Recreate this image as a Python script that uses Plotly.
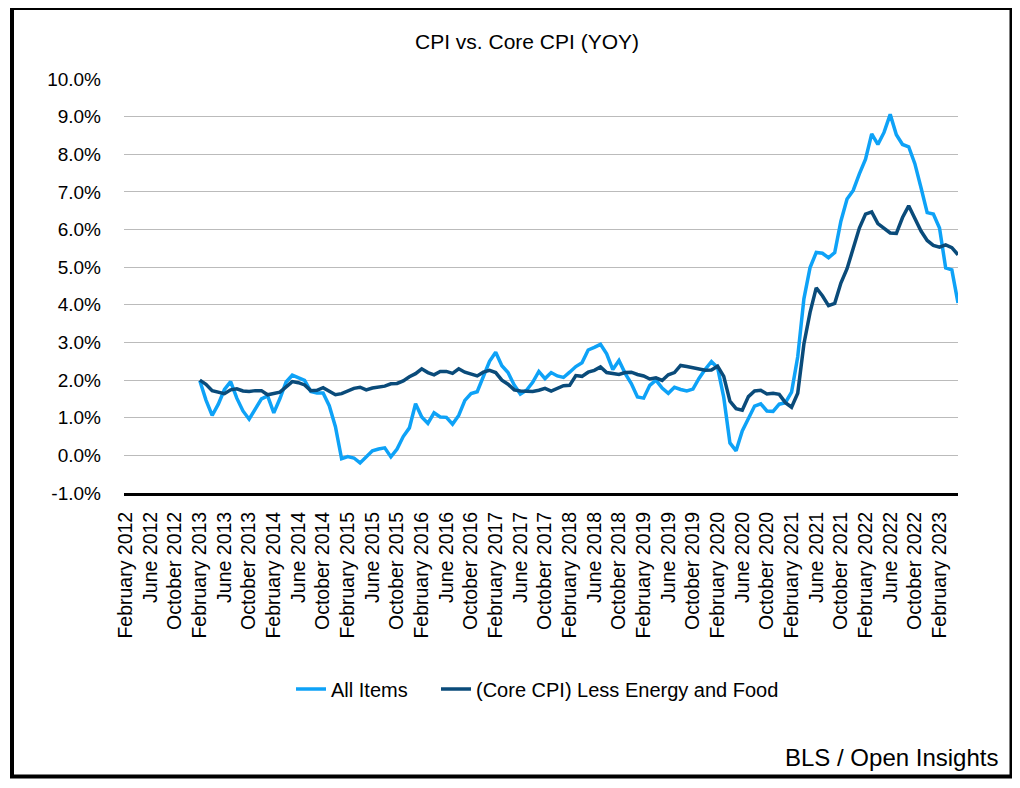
import plotly.graph_objects as go

months = ["January", "February", "March", "April", "May", "June", "July",
          "August", "September", "October", "November", "December"]

# Categories: February 2012 .. May 2023
categories = []
for y in range(2012, 2024):
    for m in range(12):
        if y == 2012 and m == 0:
            continue
        if y == 2023 and m > 4:
            continue
        categories.append(f"{months[m]} {y}")

# Series start February 2013 (values in %)
all_items = [
    # 2013 Feb-Dec
    1.98, 1.47, 1.06, 1.36, 1.75, 1.96, 1.52, 1.18, 0.96, 1.24, 1.50,
    # 2014
    1.58, 1.13, 1.51, 1.95, 2.13, 2.07, 1.99, 1.70, 1.66, 1.66, 1.32, 0.76,
    # 2015
    -0.09, -0.03, -0.07, -0.20, -0.04, 0.12, 0.17, 0.20, -0.04, 0.17, 0.50, 0.73,
    # 2016
    1.37, 1.02, 0.85, 1.13, 1.02, 1.01, 0.83, 1.06, 1.46, 1.64, 1.69, 2.07,
    # 2017
    2.50, 2.74, 2.38, 2.20, 1.87, 1.63, 1.73, 1.94, 2.23, 2.04, 2.20, 2.11,
    # 2018
    2.07, 2.21, 2.36, 2.46, 2.80, 2.87, 2.95, 2.70, 2.28, 2.52, 2.18, 1.91,
    # 2019
    1.55, 1.52, 1.86, 2.00, 1.79, 1.65, 1.81, 1.75, 1.71, 1.76, 2.05, 2.29,
    # 2020
    2.49, 2.33, 1.54, 0.33, 0.12, 0.65, 0.99, 1.31, 1.37, 1.18, 1.17, 1.36,
    # 2021
    1.40, 1.68, 2.62, 4.16, 4.99, 5.39, 5.37, 5.25, 5.39, 6.22, 6.81, 7.04,
    # 2022
    7.48, 7.87, 8.54, 8.26, 8.58, 9.06, 8.52, 8.26, 8.20, 7.75, 7.11, 6.45,
    # 2023 Jan-May
    6.41, 6.04, 4.98, 4.93, 4.05,
]

core = [
    # 2013 Feb-Dec
    2.00, 1.89, 1.72, 1.68, 1.64, 1.74, 1.77, 1.71, 1.70, 1.72, 1.72,
    # 2014
    1.61, 1.64, 1.68, 1.82, 1.96, 1.93, 1.87, 1.72, 1.73, 1.80, 1.71, 1.61,
    # 2015
    1.64, 1.70, 1.78, 1.81, 1.74, 1.79, 1.82, 1.84, 1.90, 1.91, 1.98, 2.09,
    # 2016
    2.17, 2.30, 2.20, 2.14, 2.23, 2.23, 2.18, 2.30, 2.21, 2.15, 2.11, 2.21,
    # 2017
    2.26, 2.20, 2.00, 1.89, 1.74, 1.71, 1.70, 1.70, 1.73, 1.78, 1.71, 1.78,
    # 2018
    1.85, 1.86, 2.12, 2.10, 2.21, 2.26, 2.35, 2.20, 2.17, 2.15, 2.20, 2.21,
    # 2019
    2.15, 2.11, 2.03, 2.06, 1.99, 2.14, 2.20, 2.39, 2.36, 2.33, 2.31, 2.26,
    # 2020
    2.27, 2.37, 2.10, 1.44, 1.24, 1.20, 1.56, 1.71, 1.73, 1.63, 1.65, 1.62,
    # 2021
    1.40, 1.28, 1.65, 2.96, 3.80, 4.45, 4.24, 3.98, 4.04, 4.58, 4.96, 5.48,
    # 2022
    6.04, 6.41, 6.47, 6.16, 6.02, 5.91, 5.90, 6.32, 6.63, 6.30, 5.96, 5.71,
    # 2023 Jan-May
    5.58, 5.53, 5.59, 5.52, 5.33,
]

n_empty = len(categories) - len(all_items)
all_items_full = [None] * n_empty + all_items
core_full = [None] * n_empty + core

tick_labels = categories[::4]

y_ticks = [i for i in range(-1, 11)]
y_tick_text = [f"{v:.1f}%" for v in y_ticks]

FONT = "Liberation Sans, Arial, Helvetica, sans-serif"
LIGHT = "#0ea2f7"
DARK = "#0a4b7a"

fig = go.Figure()
fig.add_trace(go.Scatter(
    x=categories, y=all_items_full, mode="lines", name="All Items",
    line=dict(color=LIGHT, width=3.5), connectgaps=False, legendwidth=100,
))
fig.add_trace(go.Scatter(
    x=categories, y=core_full, mode="lines",
    name="(Core CPI) Less Energy and Food",
    line=dict(color=DARK, width=3.5), connectgaps=False,
))

# page has an 8px body margin: work in page coords, convert to figure coords
OFF = 8
W, H = 1004, 772
PL, PR, PT, PB = 124, 958, 79, 493  # plot area in page coords
L, R, T, B = PL - OFF, W - (PR - OFF), PT - OFF, H - (PB - OFF)
pw, ph = W - L - R, H - T - B


def px(xp):
    return (xp - OFF - L) / pw


def py(yp):
    return (H - B - (yp - OFF)) / ph


fig.update_layout(
    width=W, height=H,
    margin=dict(l=L, r=R, t=T, b=B, pad=0),
    paper_bgcolor="white", plot_bgcolor="white",
    font=dict(family=FONT, color="black", size=19),
    title=dict(text="CPI vs. Core CPI (YOY)", x=(527 - OFF) / W, xanchor="center",
               y=1 - (42 - OFF) / H, yanchor="middle",
               font=dict(family=FONT, size=21, color="black")),
    showlegend=True,
    legend=dict(orientation="h", x=px(291), xanchor="left", y=py(689),
                yanchor="middle", font=dict(family=FONT, size=20),
                itemwidth=30, bgcolor="rgba(0,0,0,0)"),
    xaxis=dict(
        type="category", categoryorder="array", categoryarray=categories,
        range=[-0.3, len(categories) - 1],
        tickmode="array", tickvals=tick_labels, ticktext=tick_labels,
        tickangle=-90, tickfont=dict(family=FONT, size=19.5),
        showgrid=False, showline=True, linecolor="black", linewidth=3,
        ticks="", ticklabelstandoff=8, zeroline=False,
    ),
    yaxis=dict(
        range=[-1, 10], tickmode="array", tickvals=y_ticks, ticktext=y_tick_text,
        tickfont=dict(family=FONT, size=19),
        showgrid=True, gridcolor="#bbbbbb", gridwidth=1,
        zeroline=False, showline=False, ticks="", ticklabelstandoff=22,
    ),
    shapes=[dict(type="rect", xref="paper", yref="paper",
                 x0=px(12), x1=px(1011.5), y0=py(776.5), y1=py(8),
                 line=dict(color="black", width=4), fillcolor="rgba(0,0,0,0)",
                 layer="above")],
    annotations=[dict(text="BLS / Open Insights", xref="paper", yref="paper",
                      x=px(1000), y=py(757), xanchor="right", yanchor="middle",
                      showarrow=False,
                      font=dict(family=FONT, size=24, color="black"))],
)

fig.write_html("out.html")
